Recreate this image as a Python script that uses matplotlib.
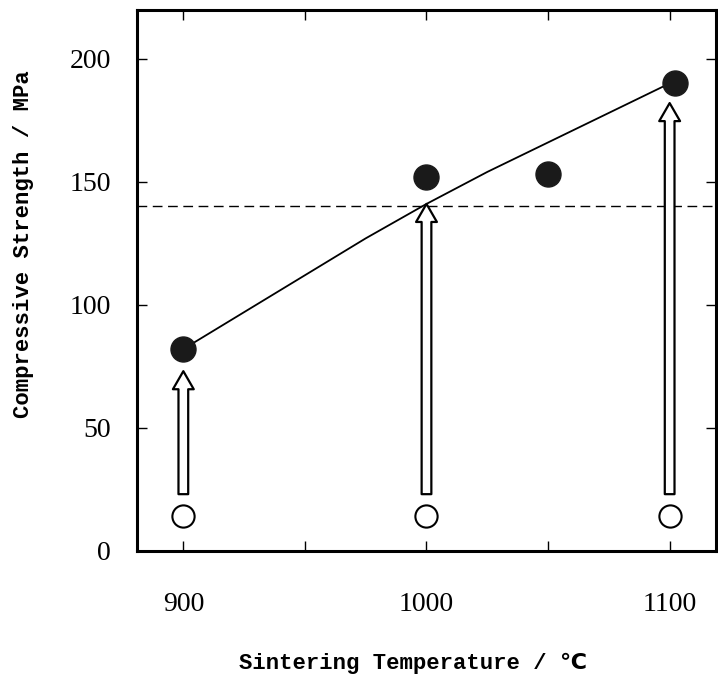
import matplotlib.pyplot as plt
from matplotlib.patches import FancyArrowPatch, ArrowStyle

# measured strength after sintering (filled) and before (open)
temp = [900, 1000, 1050, 1102]
strength = [82, 152, 153, 190]
green_temp = [900, 1000, 1100]
green_strength = [14, 14, 14]

# hand drawn trend line
curve_t = [900, 925, 950, 975, 1000, 1025, 1050, 1075, 1100]
curve_s = [82, 97, 112, 127, 141, 154, 166, 178, 190]

# arrows: (temperature, start, end)
arrow_t = [900, 1000, 1100]
arrow_lo = [23, 23, 23]
arrow_hi = [73, 141, 182]

target = 140

fig = plt.figure(figsize=(7.18, 6.85), dpi=100)
ax = fig.add_axes([0.191, 0.196, 0.806, 0.79])

ax.plot(curve_t, curve_s, color='black', lw=1.3, zorder=2)
ax.axhline(target, color='black', lw=1.0, ls=(0, (7, 4)), zorder=1)
ax.plot(temp, strength, 'o', ms=18, color='#1a1a1a', zorder=4)
ax.plot(green_temp, green_strength, 'o', ms=16, mfc='white', mec='black', mew=1.5, zorder=4)

style = ArrowStyle.Simple(head_length=13, head_width=15, tail_width=7)
for t, lo, hi in zip(arrow_t, arrow_lo, arrow_hi):
    arr = FancyArrowPatch((t, lo), (t, hi), arrowstyle=style, mutation_scale=1,
                          shrinkA=0, shrinkB=0, fc='white', ec='black', lw=1.6, zorder=3)
    ax.add_patch(arr)

ax.set_xlim(881, 1119)
ax.set_ylim(0, 220)
ax.set_xticks([900, 950, 1000, 1050, 1100])
ax.set_xticklabels(['900', '', '1000', '', '1100'])
ax.set_yticks([0, 50, 100, 150, 200])
ax.tick_params(direction='in', length=7, width=1, top=True, right=True)
ax.tick_params(axis='x', pad=30)
ax.tick_params(axis='y', pad=19)
for lab in ax.get_xticklabels() + ax.get_yticklabels():
    lab.set_fontfamily('Liberation Serif')
    lab.set_fontsize(20)
for s in ax.spines.values():
    s.set_linewidth(2.2)

fig.text(0.575, 0.032, 'Sintering Temperature / ℃', family=['Liberation Mono', 'DejaVu Sans'],
         fontsize=16, fontweight='bold', ha='center', va='center')
fig.text(0.033, 0.643, 'Compressive Strength / MPa', family='Liberation Mono',
         fontsize=16, fontweight='bold', ha='center', va='center', rotation=90)

plt.savefig('out.png', dpi=100)
